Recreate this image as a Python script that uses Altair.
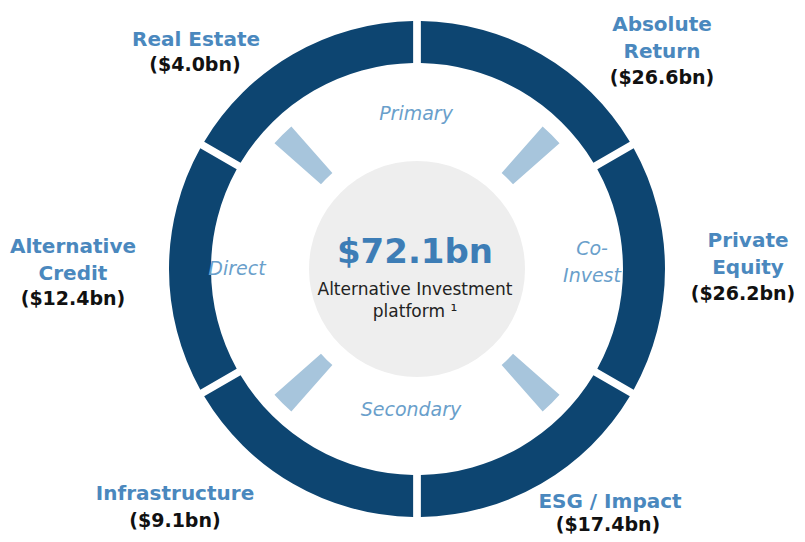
import math
import altair as alt
import pandas as pd

# ---- data ----
segments = ["Absolute Return", "Private Equity", "ESG / Impact",
            "Infrastructure", "Alternative Credit", "Real Estate"]
aum_bn = [26.6, 26.2, 17.4, 9.1, 12.4, 4.0]
total_bn = 72.1
strategies = ["Primary", "Co-Invest", "Secondary", "Direct"]

# ---- layout (page pixels, minus 8px margin) ----
M = 8
W, H = 805 - 2 * M, 542 - 2 * M
CX, CY = 417 - M, 269 - M

NAVY = "#0d4571"
LIGHT = "#a7c5dc"
LABEL_BLUE = "#4a88be"
BIG_BLUE = "#3d7db6"
ITALIC_BLUE = "#6a9fcb"
GREY = "#eeeeee"
FONT = "DejaVu Sans"

# segment label layout: (name lines, name x, name baseline y, value x, value baseline y)
seg_layout = {
    "Absolute Return": ("Absolute\nReturn", 662, 31, 662, 84),
    "Private Equity": ("Private\nEquity", 748, 247, 743, 300),
    "ESG / Impact": ("ESG / Impact", 610, 508, 608, 531),
    "Infrastructure": ("Infrastructure", 175, 500, 175, 527),
    "Alternative Credit": ("Alternative\nCredit", 73, 253, 73, 305),
    "Real Estate": ("Real Estate", 196, 46, 195, 71),
}
strat_layout = {
    "Primary": ("Primary", 416, 120),
    "Co-Invest": ("Co-\nInvest", 592, 255),
    "Secondary": ("Secondary", 411, 416),
    "Direct": ("Direct", 237, 275),
}

ring_df = pd.DataFrame({
    "segment": segments,
    "aum": aum_bn,
    "idx": list(range(len(segments))),
    "share": [1] * len(segments),
})

# dividers between the four strategy quadrants
div_half = 0.04
div_df = pd.DataFrame({
    "strategy": strategies,
    "t0": [i + 0.5 - div_half for i in range(len(strategies))],
    "t1": [i + 0.5 + div_half for i in range(len(strategies))],
})

name_df = pd.DataFrame({
    "text": [seg_layout[s][0] for s in segments],
    "x": [seg_layout[s][1] - M for s in segments],
    "y": [seg_layout[s][2] - M for s in segments],
})
val_df = pd.DataFrame({
    "text": [f"(${v:.1f}bn)" for v in aum_bn],
    "x": [seg_layout[s][3] - M for s in segments],
    "y": [seg_layout[s][4] - M for s in segments],
})
strat_df = pd.DataFrame({
    "text": [strat_layout[s][0] for s in strategies],
    "x": [strat_layout[s][1] - M for s in strategies],
    "y": [strat_layout[s][2] - M for s in strategies],
})
center_df = pd.DataFrame({"v": [total_bn]})

ring = alt.Chart(ring_df).mark_arc(
    innerRadius=206, outerRadius=248, padAngle=0.024, color=NAVY, x=CX, y=CY
).encode(
    theta=alt.Theta("share:Q", stack=True),
    order=alt.Order("idx:Q"),
)

dividers = alt.Chart(div_df).mark_arc(
    innerRadius=128, outerRadius=190, color=LIGHT, x=CX, y=CY
).encode(
    theta=alt.Theta("t0:Q", stack=False,
                    scale=alt.Scale(domain=[0, len(strategies)], range=[0, 2 * math.pi])),
    theta2="t1:Q",
)

disc = alt.Chart(center_df).mark_arc(
    innerRadius=0, outerRadius=108, color=GREY, x=CX, y=CY
).encode(theta=alt.Theta("v:Q", stack=True))


def text_layer(df, **kw):
    return alt.Chart(df).mark_text(font=FONT, align="center", baseline="alphabetic",
                                   lineBreak="\n", **kw).encode(
        x=alt.X("x:Q", scale=None, axis=None),
        y=alt.Y("y:Q", scale=None, axis=None),
        text="text:N",
    )


names = text_layer(name_df, fontSize=20, fontWeight="bold", color=LABEL_BLUE, lineHeight=27)
values = text_layer(val_df, fontSize=19, fontWeight="bold", color="#111111")
strat_text = text_layer(strat_df, fontSize=19, fontStyle="italic", color=ITALIC_BLUE, lineHeight=27)

center_lines = pd.DataFrame({
    "text": [f"${total_bn:.1f}bn", "Alternative Investment", "platform ¹"],
    "x": [415 - M, 415 - M, 415 - M],
    "y": [263 - M, 295 - M, 317 - M],
    "kind": ["big", "small", "small"],
})
big = text_layer(center_lines[center_lines.kind == "big"], fontSize=34,
                 fontWeight="bold", color=BIG_BLUE)
small = text_layer(center_lines[center_lines.kind == "small"], fontSize=17,
                   color="#222222")

chart = alt.layer(ring, dividers, disc, names, values, strat_text, big, small).resolve_scale(
    theta="independent"
).properties(
    width=W, height=H, padding=0, autosize="none"
).configure_view(stroke=None)

chart.save("out.html", embed_options={"renderer": "svg", "actions": False})
